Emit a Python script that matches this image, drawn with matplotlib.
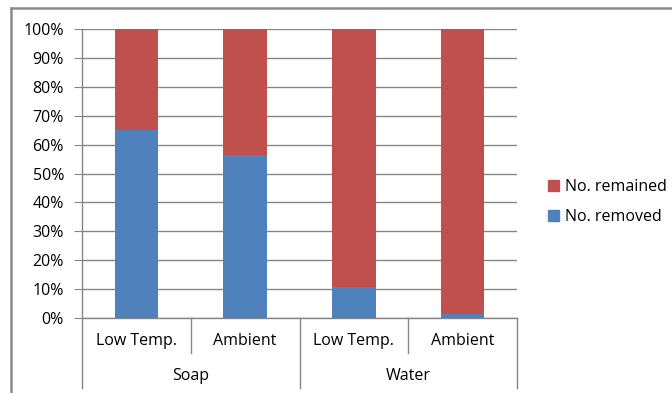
import matplotlib.pyplot as plt
from matplotlib.lines import Line2D
from matplotlib.patches import Patch
from matplotlib.ticker import FuncFormatter

sub_labels = ['Low Temp.', 'Ambient', 'Low Temp.', 'Ambient']
group_labels = ['Soap', 'Water']
removed = [65.0, 56.3, 10.6, 1.5]
remained = [35.0, 43.7, 89.4, 98.5]

plt.rcParams['font.family'] = ['Open Sans', 'DejaVu Sans']
blue = '#4F81BD'
red = '#C0504D'
gray = '#868686'
fs = 11.5

fig = plt.figure(figsize=(6.72, 3.93), dpi=100)
ax = fig.add_axes([82 / 672, 1 - 318 / 393, 435 / 672, 289 / 393])

x = list(range(len(sub_labels)))
ax.bar(x, removed, width=0.4, color=blue, zorder=3)
ax.bar(x, remained, width=0.4, bottom=removed, color=red, zorder=3)

ax.set_xlim(-0.5, 3.5)
ax.set_ylim(0, 100)
ax.set_yticks(range(0, 101, 10))
ax.yaxis.set_major_formatter(FuncFormatter(lambda v, p: '%d%%' % v))
ax.yaxis.grid(True, color=gray, linewidth=1, zorder=0)
ax.tick_params(axis='y', length=6, color=gray, labelsize=fs, pad=7)
ax.tick_params(axis='x', length=0, labelbottom=False)
for s in ['top', 'right']:
    ax.spines[s].set_visible(False)
for s in ['left', 'bottom']:
    ax.spines[s].set_color(gray)
    ax.spines[s].set_linewidth(1)

tr = ax.get_xaxis_transform()
for i, lab in enumerate(sub_labels):
    ax.text(i, -0.08, lab, transform=tr, ha='center', va='center', fontsize=fs)
for g, lab in enumerate(group_labels):
    ax.text(2 * g + 0.5, -0.2, lab, transform=tr, ha='center', va='center', fontsize=fs)
for xd in [-0.5, 0.5, 1.5, 2.5, 3.5]:
    y_end = -0.242 if xd in (-0.5, 1.5, 3.5) else -0.121
    ax.add_line(Line2D([xd, xd], [0, y_end], transform=tr, color=gray,
                       linewidth=1, clip_on=False))

handles = [Patch(color=red, label='No. remained'), Patch(color=blue, label='No. removed')]
fig.legend(handles=handles, loc='center left', bbox_to_anchor=(534 / 672, 1 - 202 / 393),
           frameon=False, fontsize=fs, handlelength=0.65, handleheight=0.65,
           handletextpad=0.4, labelspacing=0.9)

# outer chart frame
fig.add_artist(Line2D([11 / 672, 1], [1 - 8 / 393, 1 - 8 / 393], color='#8c8c8c', linewidth=1.8))
fig.add_artist(Line2D([11 / 672, 11 / 672], [0, 1 - 8 / 393], color='#8c8c8c', linewidth=1.8))

fig.savefig('out.png', dpi=100)
